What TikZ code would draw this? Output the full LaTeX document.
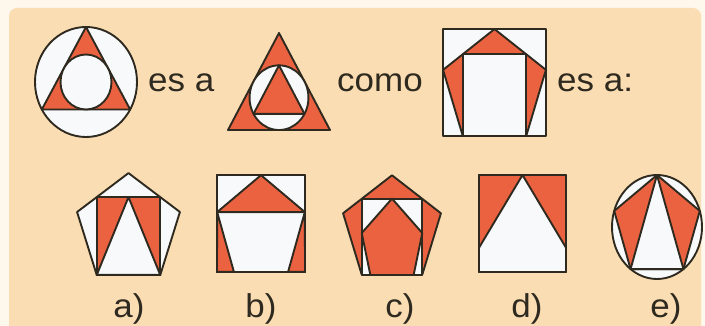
\documentclass[tikz,border=0pt]{standalone}
\usepackage{fontspec}
\usepackage{tikz}
\newfontfamily\figfont[FakeStretch=1.06]{Liberation Sans}
\definecolor{paper}{HTML}{FEF7EC}
\definecolor{peach}{HTML}{FBDDB3}
\definecolor{coral}{HTML}{EA6240}
\definecolor{snow}{HTML}{F8F9FB}
\definecolor{ink}{HTML}{2F2A20}
\tikzset{
  shp/.style={draw=ink, line width=1.9pt, line join=round},
  redf/.style={shp, fill=coral},
  whf/.style={shp, fill=snow},
  txt/.style={font=\figfont\fontsize{33}{33}\selectfont, text=ink, inner sep=0pt},
}
% corners of a regular pentagon, radius 1
\newcommand{\pentcorners}{%
  \foreach \k/\a in {1/90,2/162,3/234,4/306,5/18} { \coordinate (p\k) at (\a:1); }}

\begin{document}
\begin{tikzpicture}[x=1pt, y=1pt]
  \useasboundingbox (0,0) rectangle (705,326);
  \fill[paper] (0,0) rectangle (705,326);
  \fill[peach, rounded corners=8pt] (9,-12) rectangle (701,318);

  % circle : triangle : circle
  \begin{scope}[shift={(86,244)}, xscale=51, yscale=55]
    \draw[whf] (0,0) circle (1);
    \draw[redf] (90:1) -- (210:1) -- (330:1) -- cycle;
    \draw[whf] (0,0) circle (0.5);
  \end{scope}
  \node[txt, anchor=base west] (esa) at (148,234) {es a};

  % triangle : circle : triangle
  \begin{scope}[shift={(279,228.3)}, xscale=58.9, yscale=64.7]
    \draw[redf] (90:1) -- (210:1) -- (330:1) -- cycle;
    \draw[whf] (0,0) circle (0.5);
    \draw[redf] (90:0.5) -- (210:0.5) -- (330:0.5) -- cycle;
  \end{scope}
  \node[txt, anchor=base west] (como) at (337,234) {como};

  % square : pentagon : square
  \begin{scope}[shift={(494.5,237.9)}, xscale=54.2, yscale=59.1]
    \pentcorners
    \draw[whf] (-0.951,-0.809) rectangle (0.951,1);
    \draw[redf] (p1) -- (p2) -- (p3) -- (p4) -- (p5) -- cycle;
    \draw[whf] (-0.588,-0.809) rectangle (0.588,0.573);
  \end{scope}
  \node[txt, anchor=base west] (esa2) at (557,234) {es a:};

  % a)
  \begin{scope}[shift={(128.5,96.6)}, xscale=54.2, yscale=56.4]
    \pentcorners
    \draw[whf] (p1) -- (p2) -- (p3) -- (p4) -- (p5) -- cycle;
    \draw[redf] (-0.588,-0.809) rectangle (0.588,0.573);
    \draw[whf] (0,0.573) -- (p3) -- (p4) -- cycle;
  \end{scope}

  % b)
  \begin{scope}[shift={(261,97.4)}, xscale=46.3, yscale=53.6]
    \pentcorners
    \draw[whf] (-0.951,-0.809) rectangle (0.951,1);
    \draw[redf] (p2) -- (p3) -- (-0.951,-0.809) -- cycle;
    \draw[redf] (p5) -- (p4) -- (0.951,-0.809) -- cycle;
    \draw[redf] (p1) -- (p2) -- (p5) -- cycle;
    \draw[shp] (-0.951,-0.809) rectangle (0.951,1);
  \end{scope}

  % c)
  \begin{scope}[shift={(392,95.7)}, xscale=51.5, yscale=55.3]
    \pentcorners
    \draw[redf] (p1) -- (p2) -- (p3) -- (p4) -- (p5) -- cycle;
    \draw[whf] (-0.588,-0.809) rectangle (0.588,0.573);
    \draw[redf] (0,0.573) -- (-0.588,-0.05) -- (-0.42,-0.809)
      -- (0.42,-0.809) -- (0.588,-0.05) -- cycle;
  \end{scope}

  % d)
  \begin{scope}[shift={(522.5,102.5)}, xscale=43.5, yscale=48.5]
    \draw[redf] (-1,-1) rectangle (1,1);
    \draw[whf] (0,1) -- (-1,-0.5) -- (-1,-1) -- (1,-1) -- (1,-0.5) -- cycle;
    \draw[shp] (-1,-1) rectangle (1,1);
  \end{scope}

  % e)
  \begin{scope}[shift={(657,99)}, xscale=45, yscale=52]
    \pentcorners
    \draw[whf] (0,0) circle (1);
    \draw[redf] (p1) -- (p2) -- (p3) -- (p4) -- (p5) -- cycle;
    \draw[whf] (p1) -- (p3) -- (p4) -- cycle;
  \end{scope}

  \foreach \l/\x in {a/129,b/261,c/400,d/527,e/666}
    \node[txt, anchor=base] (lab\l) at (\x,8) {\l)};
\end{tikzpicture}
\end{document}
